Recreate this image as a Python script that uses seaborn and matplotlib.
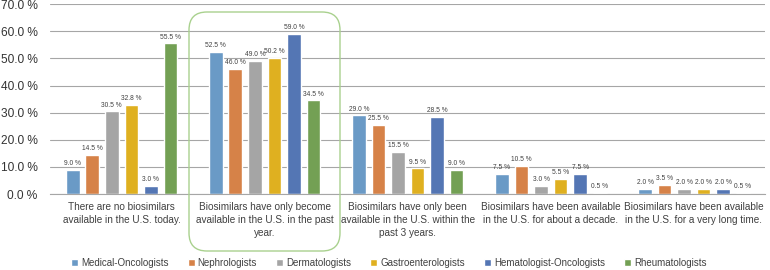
import numpy as np
import pandas as pd
import matplotlib
matplotlib.use("Agg")
import matplotlib.pyplot as plt
import matplotlib.transforms as mtransforms
from matplotlib.patches import FancyBboxPatch
import seaborn as sns

# ── Data ──────────────────────────────────────────────────────
categories = [
    "There are no biosimilars\navailable in the U.S. today.",
    "Biosimilars have only become\navailable in the U.S. in the past\nyear.",
    "Biosimilars have only been\navailable in the U.S. within the\npast 3 years.",
    "Biosimilars have been available\nin the U.S. for about a decade.",
    "Biosimilars have been available\nin the U.S. for a very long time.",
]
specialties = ["Medical-Oncologists", "Nephrologists", "Dermatologists",
               "Gastroenterologists", "Hematologist-Oncologists", "Rheumatologists"]
med_onc = [9.0, 52.5, 29.0, 7.5, 2.0]
nephro = [14.5, 46.0, 25.5, 10.5, 3.5]
derma = [30.5, 49.0, 15.5, 3.0, 2.0]
gastro = [32.8, 50.2, 9.5, 5.5, 2.0]
hem_onc = [3.0, 59.0, 28.5, 7.5, 2.0]
rheum = [55.5, 34.5, 9.0, 0.5, 0.5]
yticks = [0, 10, 20, 30, 40, 50, 60, 70]

COLORS = ["#5B9BD5", "#ED7D31", "#A5A5A5", "#FFC000", "#4472C4", "#70AD47"]
TEXT_C = "#404040"

series = [med_onc, nephro, derma, gastro, hem_onc, rheum]
df = pd.DataFrame({
    "category": np.tile(categories, len(specialties)),
    "specialty": np.repeat(specialties, len(categories)),
    "value": np.concatenate(series),
})

# ── Style ─────────────────────────────────────────────────────
sns.set_theme(style="white")
plt.rcParams["font.family"] = ["Liberation Sans", "DejaVu Sans"]

fig = plt.figure(figsize=(7.7, 2.7), dpi=100)
ax = fig.add_axes([0.065, 0.281, 0.929, 0.704])

sns.barplot(data=df, x="category", y="value", hue="specialty",
            order=categories, hue_order=specialties, palette=COLORS,
            width=0.82, gap=0.3, ax=ax, legend=True)

for container in ax.containers:
    ax.bar_label(container, fmt="%.1f %%", padding=2, fontsize=4.8, color=TEXT_C)

ax.set_ylim(0, 70)
ax.set_yticks(yticks)
ax.set_yticklabels([f"{v:.1f} %" for v in yticks], fontsize=8.6, color="#333333")
ax.set_xlim(-0.5, len(categories) - 0.5)
ax.tick_params(axis="x", labelsize=7.2, colors=TEXT_C, length=0, pad=6)
ax.tick_params(axis="y", length=0, pad=9)
for lbl in ax.get_xticklabels():
    lbl.set_linespacing(1.35)
ax.set_xlabel("")
ax.set_ylabel("")
ax.yaxis.grid(True, color="#A6A6A6", linewidth=0.8)
ax.set_axisbelow(True)
for side in ["left", "right", "top"]:
    ax.spines[side].set_visible(False)
ax.spines["bottom"].set_color("#A6A6A6")
ax.spines["bottom"].set_linewidth(0.8)

# rounded highlight box around second group
box = FancyBboxPatch((189, 19), 151, 239,
                     boxstyle="round,pad=0,rounding_size=18",
                     transform=mtransforms.IdentityTransform(),
                     fill=False, edgecolor="#A9D18E", linewidth=1.0,
                     clip_on=False)
fig.patches.append(box)

handles, labels = ax.get_legend_handles_labels()
ax.legend_.remove()
fig.legend(handles, labels, loc="center", bbox_to_anchor=(0.505, 0.026), ncol=6,
           frameon=False, fontsize=7.0, handlelength=0.7, handleheight=0.7,
           handletextpad=0.3, columnspacing=2.0, labelcolor=TEXT_C)

fig.savefig("out.png", dpi=100)
